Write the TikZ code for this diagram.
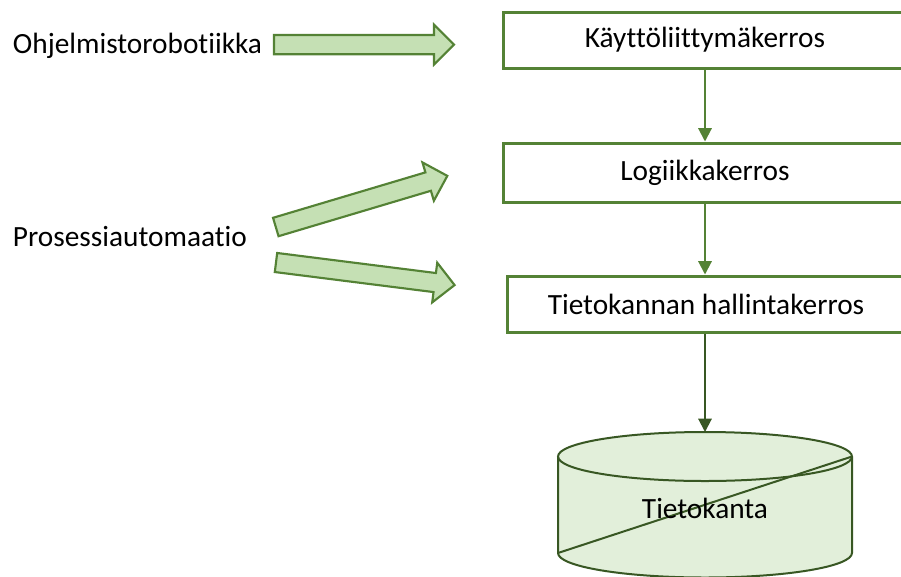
\documentclass[tikz,border=0pt]{standalone}
\usepackage{fontspec}
\setmainfont[Ligatures=NoCommon]{Carlito}
\usetikzlibrary{arrows.meta}
\definecolor{boxgreen}{HTML}{548235}
\definecolor{arrowfill}{HTML}{C5E0B4}
\definecolor{cylfill}{HTML}{E2EFDA}
\definecolor{cyldraw}{HTML}{385723}
\begin{document}
\begin{tikzpicture}[x=0.75pt,y=-0.75pt,
  txt/.style={font=\fontsize{22pt}{26pt}\selectfont},
  box/.style={txt, draw=boxgreen, line width=2.25pt, fill=white, minimum width=303pt, minimum height=42pt, inner sep=0pt},
  conn/.style={draw=boxgreen, line width=1.5pt, -{Triangle[length=10pt,width=10pt]}},
  dbconn/.style={draw=cyldraw, line width=1.5pt, -{Triangle[length=10pt,width=10pt]}},
  blockarrow/.style={draw=boxgreen, fill=arrowfill, line width=1.6pt, line join=miter},
  lbl/.style={txt, inner sep=0pt}]
\useasboundingbox (0,0) rectangle (901,576);
\clip (0,0) rectangle (901,576);

% left labels
\node[lbl, anchor=base west] (rpa) at (12.7,53.3) {Ohjelmistorobotiikka};
\node[lbl, anchor=base west] (pa) at (12.7,246.7) {Prosessiautomaatio};

% block arrows
\begin{scope}[shift={(274,44.6)}]
\draw[blockarrow] (0,-9.6) -- (160,-9.6) -- (160,-20) -- (180,0) -- (160,20) -- (160,9.6) -- (0,9.6) -- cycle;
\end{scope}
\begin{scope}[shift={(275.8,227)}, rotate=16.6]
\draw[blockarrow] (0,-9.6) -- (159,-9.6) -- (159,-20) -- (179,0) -- (159,20) -- (159,9.6) -- (0,9.6) -- cycle;
\end{scope}
\begin{scope}[shift={(276,262.5)}, rotate=-7.2]
\draw[blockarrow] (0,-9.6) -- (160,-9.6) -- (160,-20) -- (180,0) -- (160,20) -- (160,9.6) -- (0,9.6) -- cycle;
\end{scope}

% layer boxes
\node[box] (ui) at (705,40) {Käyttöliittymäkerros};
\node[box, minimum height=44.25pt] (logic) at (705,172.5) {Logiikkakerros};
\node[box, minimum width=298.5pt] (dbms) at (706,304) {Tietokannan hallintakerros};

% cylinder
\fill[cylfill] (558,456.5) -- (558,553) arc[start angle=180, end angle=360, x radius=110.25pt, y radius=18.375pt] -- (852,456.5) arc[start angle=0, end angle=180, x radius=110.25pt, y radius=18.375pt] -- cycle;
\draw[cyldraw, line width=1.5pt] (705,456.5) ellipse[x radius=110.25pt, y radius=18.375pt];
\draw[cyldraw, line width=1.5pt] (558,456.5) -- (558,553) arc[start angle=180, end angle=360, x radius=110.25pt, y radius=18.375pt] -- (852,456.5);
\draw[cyldraw, line width=1.5pt] (558,553) -- (852,456.5);
\coordinate (dbtop) at (705,432);
\node[lbl] (db) at (705,508) {Tietokanta};

% connectors
\draw[conn] (ui.south) -- (logic.north);
\draw[conn] (logic.south) -- (logic.south |- dbms.north);
\draw[dbconn] (dbms.south -| dbtop) -- (dbtop);
\end{tikzpicture}
\end{document}
